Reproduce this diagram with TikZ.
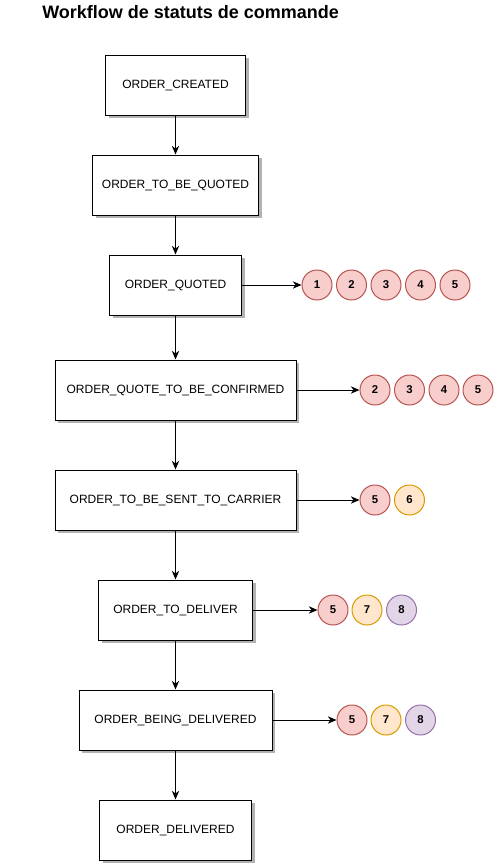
\documentclass[tikz,border=0pt]{standalone}
\usepackage{fontspec}
\setmainfont{Liberation Sans}
\usetikzlibrary{arrows.meta,shadows}
\definecolor{redf}{HTML}{F8CECC}\definecolor{redd}{HTML}{B85450}
\definecolor{orf}{HTML}{FFE6CC}\definecolor{ord}{HTML}{D79B00}
\definecolor{puf}{HTML}{E1D5E7}\definecolor{pud}{HTML}{9673A6}
\begin{document}
\begin{tikzpicture}[x=0.75pt,y=-0.75pt,
  state/.style={draw=black,fill=white,line width=0.75pt,inner sep=0pt,minimum height=45pt,font=\fontsize{9}{11}\selectfont,
    drop shadow={shadow xshift=2.25pt,shadow yshift=-2.25pt,fill=black!30,opacity=1}},
  num/.style={circle,draw,line width=0.75pt,minimum size=22.5pt,inner sep=0pt,font=\bfseries\fontsize{8.5}{10}\selectfont},
  rd/.style={num,fill=redf,draw=redd},
  og/.style={num,fill=orf,draw=ord},
  pp/.style={num,fill=puf,draw=pud},
  arr/.style={-{Stealth[length=6.5pt,width=5.5pt,inset=2pt]},line width=0.75pt}]
\useasboundingbox (0,0) rectangle (494,865);
\node[anchor=west,inner sep=0pt,font=\bfseries\fontsize{13.5}{16}\selectfont] (title) at (42,12) {Workflow de statuts de commande};

\node[state,minimum width=105pt] (s1) at (175.5,85) {ORDER\_CREATED};
\node[state,minimum width=124.5pt] (s2) at (175.5,185) {ORDER\_TO\_BE\_QUOTED};
\node[state,minimum width=99pt] (s3) at (175.5,285) {ORDER\_QUOTED};
\node[state,minimum width=180.75pt] (s4) at (175.5,390) {ORDER\_QUOTE\_TO\_BE\_CONFIRMED};
\node[state,minimum width=180.75pt] (s5) at (175.5,500) {ORDER\_TO\_BE\_SENT\_TO\_CARRIER};
\node[state,minimum width=115.5pt] (s6) at (175.5,610) {ORDER\_TO\_DELIVER};
\node[state,minimum width=144.75pt] (s7) at (175.5,720) {ORDER\_BEING\_DELIVERED};
\node[state,minimum width=114pt] (s8) at (175.5,830) {ORDER\_DELIVERED};

\foreach \a/\b in {s1/s2,s2/s3,s3/s4,s4/s5,s5/s6,s6/s7,s7/s8}
  \draw[arr] (\a.south) -- (\b.north);

% row 3
\node[rd] (c31) at (317,285) {1};
\node[rd] (c32) at (351.5,285) {2};
\node[rd] (c33) at (386,285) {3};
\node[rd] (c34) at (420.5,285) {4};
\node[rd] (c35) at (455,285) {5};
\draw[arr] (s3) -- (c31);
% row 4
\node[rd] (c42) at (375,390) {2};
\node[rd] (c43) at (409.5,390) {3};
\node[rd] (c44) at (444,390) {4};
\node[rd] (c45) at (478,390) {5};
\draw[arr] (s4) -- (c42);
% row 5
\node[rd] (c55) at (375,500) {5};
\node[og] (c56) at (409.5,500) {6};
\draw[arr] (s5) -- (c55);
% row 6
\node[rd] (c65) at (333,610) {5};
\node[og] (c67) at (367,610) {7};
\node[pp] (c68) at (401.5,610) {8};
\draw[arr] (s6) -- (c65);
% row 7
\node[rd] (c75) at (352,720) {5};
\node[og] (c77) at (386,720) {7};
\node[pp] (c78) at (420.5,720) {8};
\draw[arr] (s7) -- (c75);
\end{tikzpicture}
\end{document}
